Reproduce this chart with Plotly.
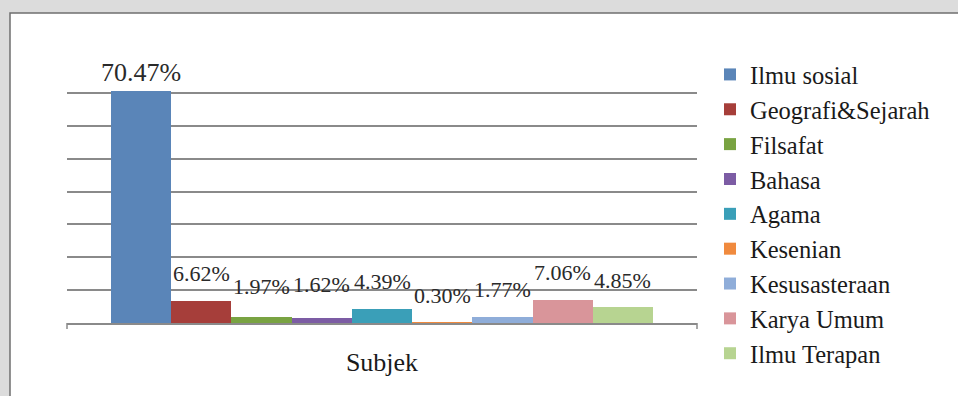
import plotly.graph_objects as go

# Share of collection by subject (percent)
subjects = [
    "Ilmu sosial", "Geografi&Sejarah", "Filsafat", "Bahasa", "Agama",
    "Kesenian", "Kesusasteraan", "Karya Umum", "Ilmu Terapan",
]
shares = [70.47, 6.62, 1.97, 1.62, 4.39, 0.30, 1.77, 7.06, 4.85]
axis_title = "Subjek"

# Styling
colors = ["#5a85b8", "#a63e3a", "#79a342", "#7c5ca4", "#3a9fb8",
          "#f08a3e", "#8fadd9", "#d9959a", "#b7d491"]
label_lift = [10, 20, 23, 26, 20, 19, 20, 20, 19]   # px between bar top and label baseline
label_size = [26, 22, 22, 22, 22, 22, 22, 22, 22]
SERIF = "Liberation Serif"

W, H = 958, 396
ML, MR, MT, MB = 67, 261, 60, 73
plot_w = W - ML - MR
plot_h = H - MT - MB

fig = go.Figure()
for name, val, col in zip(subjects, shares, colors):
    fig.add_trace(go.Bar(
        x=[name], y=[val], name=name, marker_color=col,
        marker_line_width=0,
        hoverinfo="name+y",
    ))

# value labels above each bar
for name, val, lift, fs in zip(subjects, shares, label_lift, label_size):
    fig.add_annotation(
        x=name, y=val, text=f"{val:.2f}%", showarrow=False,
        xanchor="center", yanchor="bottom",
        yshift=lift - round(0.3 * fs),
        font=dict(family=SERIF, size=fs, color="#2a2a2a"),
    )

def px_x(p):
    return (p - ML) / plot_w

def px_y(p):
    return (H - MB - p) / plot_h

shapes = [
    # chart frame
    dict(type="rect", xref="paper", yref="paper",
         x0=px_x(10), x1=px_x(W + 20), y0=px_y(13), y1=px_y(H + 20),
         line=dict(color="#6f6f6f", width=1.5), fillcolor="white", layer="below"),
]
# small tick marks at both ends of the category axis
for xe in (0, 1):
    shapes.append(dict(type="line", xref="paper", yref="paper",
                       x0=xe, x1=xe, ysizemode="pixel", yanchor=0, y0=0, y1=-6,
                       line=dict(color="#8a8a8a", width=1.5)))

fig.update_layout(
    width=W, height=H,
    margin=dict(l=ML, r=MR, t=MT, b=MB, pad=0),
    paper_bgcolor="#dcdcdc",
    plot_bgcolor="rgba(0,0,0,0)",
    font=dict(family=SERIF),
    barmode="overlay", bargap=0,
    shapes=shapes,
    showlegend=True,
    legend=dict(
        x=px_x(710), xanchor="left", y=px_y(52), yanchor="top",
        font=dict(family=SERIF, size=24.5, color="#1a1a1a"),
        bgcolor="rgba(0,0,0,0)", traceorder="normal",
        maxheight=400,
    ),
    xaxis=dict(
        type="category", range=[-1.23, len(subjects) - 1 + 1.23],
        showticklabels=False, ticks="", showgrid=False,
        showline=True, linecolor="#8a8a8a", linewidth=1.5,
        title=dict(text=axis_title, standoff=29,
                   font=dict(family=SERIF, size=26, color="#1a1a1a")),
        fixedrange=True,
    ),
    yaxis=dict(
        range=[0, 80], dtick=10, showticklabels=False, ticks="",
        showgrid=True, gridcolor="#8a8a8a", gridwidth=1.5,
        zeroline=False, showline=False, fixedrange=True,
    ),
)

fig.write_html("out.html")
